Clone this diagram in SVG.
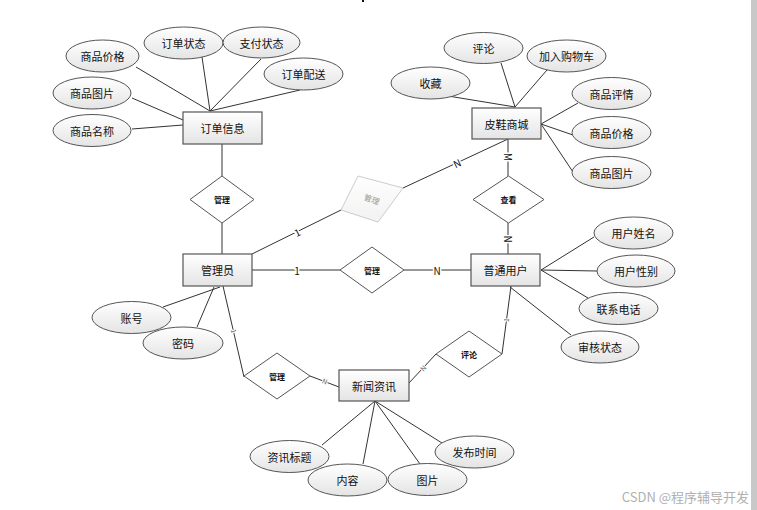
<svg xmlns="http://www.w3.org/2000/svg" width="757" height="510" viewBox="0 0 757 510">
<defs>
<linearGradient id="g" x1="0" y1="0" x2="0" y2="1">
<stop offset="0" stop-color="#ffffff"/>
<stop offset="1" stop-color="#e4e4e4"/>
</linearGradient>
<linearGradient id="gf" x1="0" y1="0" x2="0" y2="1">
<stop offset="0" stop-color="#ffffff"/>
<stop offset="1" stop-color="#f0f0f0"/>
</linearGradient>
</defs>
<style>
text{font-family:"Noto Sans CJK SC","Liberation Sans",sans-serif;text-anchor:middle;dominant-baseline:central;fill:#111}
.ent rect{fill:url(#g);stroke:#555;stroke-width:1.2}
.ent text{font-size:11px}
.att ellipse{fill:url(#g);stroke:#555;stroke-width:1}
.att text{font-size:11px}
.rel polygon{fill:#fff;stroke:#555;stroke-width:1}
.rel text{font-size:8px;font-weight:bold}
.lines line{stroke:#333;stroke-width:1;fill:none}
.lbl{font-size:10px;fill:#111;stroke:#fff;stroke-width:3;paint-order:stroke}
.tiny{font-size:7px;fill:#666;stroke:#fff;stroke-width:2;paint-order:stroke}
</style>
<rect x="751" y="0" width="6" height="510" fill="#c8c8c8"/>
<rect x="362" y="0" width="2" height="2" fill="#111"/>
<g class="lines" id="connectors">
<line x1="136" y1="67" x2="210" y2="111"/>
<line x1="202" y1="57" x2="210" y2="111"/>
<line x1="261" y1="59" x2="210" y2="111"/>
<line x1="300" y1="90" x2="210" y2="111"/>
<line x1="132" y1="98" x2="183" y2="120"/>
<line x1="132" y1="129" x2="183" y2="125"/>
<line x1="222" y1="144" x2="222" y2="176"/>
<line x1="222" y1="223" x2="222" y2="254"/>
<line x1="252" y1="254" x2="341" y2="210"/>
<line x1="403" y1="188" x2="508" y2="139"/>
<line x1="508" y1="139" x2="508" y2="176"/>
<line x1="508" y1="223" x2="508" y2="254"/>
<line x1="252" y1="270" x2="340" y2="270"/>
<line x1="404" y1="270" x2="471" y2="270"/>
<line x1="501" y1="63" x2="515" y2="107"/>
<line x1="547" y1="70" x2="515" y2="107"/>
<line x1="448" y1="96" x2="515" y2="107"/>
<line x1="541" y1="124" x2="578" y2="103"/>
<line x1="541" y1="124" x2="573" y2="135"/>
<line x1="541" y1="124" x2="573" y2="172"/>
<line x1="541" y1="270" x2="594" y2="237"/>
<line x1="541" y1="270" x2="597" y2="271"/>
<line x1="541" y1="270" x2="588" y2="298"/>
<line x1="510" y1="287" x2="571" y2="335"/>
<line x1="511" y1="286" x2="502" y2="354"/>
<line x1="436" y1="354" x2="409" y2="383"/>
<line x1="223" y1="286" x2="244" y2="377"/>
<line x1="310" y1="376" x2="339" y2="387"/>
<line x1="220" y1="287" x2="163" y2="307"/>
<line x1="214" y1="287" x2="197" y2="327"/>
<line x1="375" y1="401" x2="322" y2="445"/>
<line x1="375" y1="401" x2="363" y2="464"/>
<line x1="375" y1="401" x2="420" y2="464"/>
<line x1="375" y1="401" x2="442" y2="443"/>
<text class="lbl" x="297" y="232" transform="rotate(-26 297 232)">1</text>
<text class="lbl" x="457" y="163" transform="rotate(-25 457 163)">N</text>
<text class="lbl" x="508" y="157" transform="rotate(90 508 157)">M</text>
<text class="lbl" x="508" y="239" transform="rotate(90 508 239)">N</text>
<text class="lbl" x="297" y="270">1</text>
<text class="lbl" x="437" y="270">N</text>
<text class="tiny" x="234" y="331" transform="rotate(77 234 331)">1</text>
<text class="tiny" x="325" y="381" transform="rotate(21 325 381)">N</text>
<text class="tiny" x="506" y="320" transform="rotate(-83 506 320)">1</text>
<text class="tiny" x="423" y="368" transform="rotate(-47 423 368)">N</text>
</g>
<g class="ent" id="order"><rect x="183" y="112" width="79" height="32"/><text x="222.5" y="128">订单信息</text></g>
<g class="ent" id="shop"><rect x="472" y="108" width="69" height="31"/><text x="506.5" y="123.5">皮鞋商城</text></g>
<g class="ent" id="admin"><rect x="183" y="254" width="69" height="32"/><text x="217.5" y="270">管理员</text></g>
<g class="ent" id="user"><rect x="471" y="254" width="69" height="32"/><text x="505.5" y="270">普通用户</text></g>
<g class="ent" id="news"><rect x="339" y="370" width="70" height="31"/><text x="374" y="385.5">新闻资讯</text></g>
<g class="rel" id="r-order"><polygon points="222,176 254,199.5 222,223 190,199.5"/><text x="222" y="199.5">管理</text></g>
<g class="rel" id="r-shop" opacity="0.85"><polygon points="358,176 403,188 378,222 341,210" style="fill:url(#gf);stroke:#c4c4c4"/><text x="372" y="199" transform="rotate(20 372 199)" style="fill:#888;font-weight:normal">管理</text></g>
<g class="rel" id="r-view"><polygon points="508.5,176 544,199.5 508.5,223 473,199.5"/><text x="508.5" y="199.5">查看</text></g>
<g class="rel" id="r-user"><polygon points="372,247 404,270 372,293 340,270"/><text x="372" y="270">管理</text></g>
<g class="rel" id="r-news"><polygon points="277,353 310,376 277,399 244,376"/><text x="277" y="376">管理</text></g>
<g class="rel" id="r-comment"><polygon points="469,331 502,354 469,377 436,354"/><text x="469" y="354">评论</text></g>
<g class="att" id="a1"><ellipse cx="102.5" cy="56" rx="36.5" ry="16"/><text x="102.5" y="56">商品价格</text></g>
<g class="att" id="a2"><ellipse cx="183.5" cy="43" rx="39.5" ry="16"/><text x="183.5" y="43">订单状态</text></g>
<g class="att" id="a3"><ellipse cx="261.5" cy="42.5" rx="38.5" ry="15.5"/><text x="261.5" y="42.5">支付状态</text></g>
<g class="att" id="a4"><ellipse cx="303.5" cy="74" rx="39.5" ry="16"/><text x="303.5" y="74">订单配送</text></g>
<g class="att" id="a5"><ellipse cx="92" cy="93" rx="39" ry="16"/><text x="92" y="93">商品图片</text></g>
<g class="att" id="a6"><ellipse cx="92" cy="130.5" rx="39" ry="16"/><text x="92" y="130.5">商品名称</text></g>
<g class="att" id="a7"><ellipse cx="483.5" cy="48" rx="39.5" ry="15.5"/><text x="483.5" y="48">评论</text></g>
<g class="att" id="a8"><ellipse cx="566.5" cy="56" rx="39.5" ry="16"/><text x="566.5" y="56">加入购物车</text></g>
<g class="att" id="a9"><ellipse cx="430.5" cy="83" rx="39.5" ry="16"/><text x="430.5" y="83">收藏</text></g>
<g class="att" id="a10"><ellipse cx="611.5" cy="93.5" rx="39.5" ry="16"/><text x="611.5" y="93.5">商品评情</text></g>
<g class="att" id="a11"><ellipse cx="611.5" cy="132.5" rx="39.5" ry="16"/><text x="611.5" y="132.5">商品价格</text></g>
<g class="att" id="a12"><ellipse cx="611.5" cy="172.5" rx="39.5" ry="16"/><text x="611.5" y="172.5">商品图片</text></g>
<g class="att" id="a13"><ellipse cx="633.5" cy="233" rx="39.5" ry="16"/><text x="633.5" y="233">用户姓名</text></g>
<g class="att" id="a14"><ellipse cx="636" cy="271" rx="39" ry="16"/><text x="636" y="271">用户性别</text></g>
<g class="att" id="a15"><ellipse cx="618.5" cy="308.5" rx="39.5" ry="16"/><text x="618.5" y="308.5">联系电话</text></g>
<g class="att" id="a16"><ellipse cx="600" cy="347" rx="39" ry="16"/><text x="600" y="347">审核状态</text></g>
<g class="att" id="a17"><ellipse cx="131.5" cy="317.5" rx="39.5" ry="16"/><text x="131.5" y="317.5">账号</text></g>
<g class="att" id="a18"><ellipse cx="183" cy="343" rx="40" ry="16"/><text x="183" y="343">密码</text></g>
<g class="att" id="a19"><ellipse cx="289.5" cy="456.5" rx="39.5" ry="16"/><text x="289.5" y="456.5">资讯标题</text></g>
<g class="att" id="a20"><ellipse cx="347.5" cy="480" rx="39.5" ry="16"/><text x="347.5" y="480">内容</text></g>
<g class="att" id="a21"><ellipse cx="427.5" cy="479.5" rx="39.5" ry="16"/><text x="427.5" y="479.5">图片</text></g>
<g class="att" id="a22"><ellipse cx="474.5" cy="452" rx="39.5" ry="16"/><text x="474.5" y="452">发布时间</text></g>
<text x="749" y="496" style="text-anchor:end;font-size:13px;fill:#b0b0b0">CSDN @程序辅导开发</text>
</svg>
